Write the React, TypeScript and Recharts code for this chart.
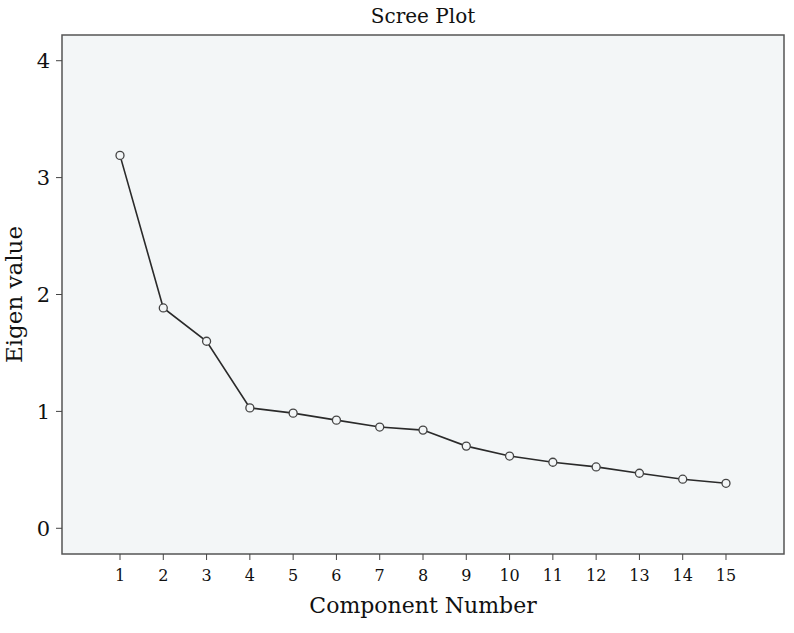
import { LineChart, Line, XAxis, YAxis, ReferenceArea, Label } from "recharts"

const components = [1, 2, 3, 4, 5, 6, 7, 8, 9, 10, 11, 12, 13, 14, 15]
const eigenValues = [3.19, 1.885, 1.6, 1.03, 0.985, 0.925, 0.866, 0.84, 0.703, 0.618, 0.565, 0.525, 0.471, 0.42, 0.385]
const xTicks = [1, 2, 3, 4, 5, 6, 7, 8, 9, 10, 11, 12, 13, 14, 15]
const yTicks = [0, 1, 2, 3, 4]

const font = "'DejaVu Serif', serif"
const xDomain: [number, number] = [-0.34, 16.34]
const yDomain: [number, number] = [-0.22, 4.22]

export default function App() {
  const data = components.map((c, i) => ({ component: c, eigen: eigenValues[i] }))

  return (
    <div style={{ position: "absolute", left: 0, top: 0, background: "#fff" }}>
      <LineChart width={794} height={633} data={data} margin={{ top: 35, right: 10, left: 0, bottom: 0 }}>
        <ReferenceArea
          x1={xDomain[0]}
          x2={xDomain[1]}
          y1={yDomain[0]}
          y2={yDomain[1]}
          fill="#f3f6f7"
          fillOpacity={1}
          stroke="#555"
          strokeWidth={1.5}
          label={{ value: "Scree Plot", position: "top", offset: 12, fill: "#111", fontSize: 20, fontFamily: font }}
        />
        <XAxis
          type="number"
          dataKey="component"
          domain={xDomain}
          ticks={xTicks}
          allowDataOverflow
          height={79}
          axisLine={false}
          tickSize={6}
          tickMargin={10}
          tickLine={{ stroke: "#444" }}
          tick={{ fill: "#111", fontSize: 16, fontFamily: font }}
        >
          <Label value="Component Number" position="insideBottom" offset={20} fill="#111" fontSize={22} fontFamily={font} />
        </XAxis>
        <YAxis
          type="number"
          domain={yDomain}
          ticks={yTicks}
          allowDataOverflow
          width={62}
          axisLine={false}
          tickSize={6}
          tickMargin={6}
          tickLine={{ stroke: "#444" }}
          tick={{ fill: "#111", fontSize: 21, fontFamily: font }}
        >
          <Label
            content={(props: any) => {
              const vb = props.viewBox || { x: 0, y: 35, width: 62, height: 519 }
              const cx = 22
              const cy = vb.y + vb.height / 2
              return (
                <text x={cx} y={cy} transform={`rotate(-90, ${cx}, ${cy})`} textAnchor="middle" fill="#111" fontSize={23} fontFamily={font}>
                  Eigen value
                </text>
              )
            }}
          />
        </YAxis>
        <Line
          type="linear"
          dataKey="eigen"
          stroke="#2a2a2a"
          strokeWidth={1.6}
          dot={{ r: 4, stroke: "#444", strokeWidth: 1.3, fill: "#f3f6f7" }}
          activeDot={false}
          isAnimationActive={false}
        />
      </LineChart>
    </div>
  )
}
